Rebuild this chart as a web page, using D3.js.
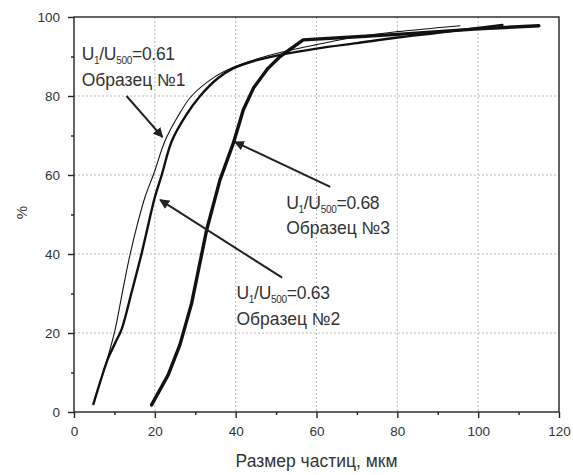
<!DOCTYPE html>
<html>
<head>
<meta charset="utf-8">
<script src="https://cdn.jsdelivr.net/npm/d3@7"></script>
<style>
  body { margin: 0; background: #fff; }
  svg { display: block; }
  text { font-family: "Liberation Sans", Arial, sans-serif; }
</style>
</head>
<body>
<svg id="chart" width="573" height="475"></svg>
<script>
// ---- data ----
const xTicks = [0, 20, 40, 60, 80, 100, 120];
const yTicks = [0, 20, 40, 60, 80, 100];
const xLabel = "Размер частиц, мкм";
const yLabel = "%";

// Образец №1, U1/U500 = 0.61 (thin)
const sample1X = [4.8, 6.6, 8.4, 10.2, 12.1, 13.9, 15.8, 17.6, 19.8, 22.5, 25.5, 29.1, 34.9, 39.4, 45, 51, 60, 70, 80, 95.5];
const sample1Y = [2, 8, 14, 21, 31, 40, 48, 54.5, 60.5, 68.6, 74.5, 80, 84.9, 87.3, 89.3, 91, 93, 95, 96.3, 97.8];
// Образец №2, U1/U500 = 0.63 (medium)
const sample2X = [4.8, 6.6, 8.4, 10.2, 11.8, 14.3, 16.7, 18.4, 19.9, 21.7, 24.2, 27.5, 31.2, 35.6, 39.4, 45, 51, 60, 70, 80, 90, 106];
const sample2Y = [2, 8, 13.5, 17.5, 21, 30.5, 40, 47.5, 54, 60, 68.6, 74.8, 80, 84.5, 87, 89, 90.4, 92, 93.4, 94.8, 96, 98];
// Образец №3, U1/U500 = 0.68 (thick)
const sample3X = [19.2, 23.3, 26.2, 29.1, 32.8, 36.1, 39.4, 41.9, 44.4, 48, 51, 56.7, 70, 80, 90, 100, 115];
const sample3Y = [1.8, 9.4, 17, 27.5, 46, 58.7, 68, 76.5, 82, 87, 90, 94.2, 95, 95.6, 96.3, 97, 97.8];

const labels = [
  { value: "0.61", name: "Образец №1" },
  { value: "0.63", name: "Образец №2" },
  { value: "0.68", name: "Образец №3" }
];

// ---- layout ----
const svg = d3.select("#chart");
const mLeft = 74, mRight = 559, mTop = 17, mBottom = 412;
const x = d3.scaleLinear().domain([0, 120]).range([mLeft, mRight]);
const y = d3.scaleLinear().domain([0, 100]).range([mBottom, mTop]);

// grid
const grid = svg.append("g").attr("stroke", "#b8b8b8").attr("stroke-width", 1).attr("stroke-dasharray", "2,2");
xTicks.filter(d => d > 0 && d < 120).forEach(d => {
  grid.append("line").attr("x1", x(d)).attr("x2", x(d)).attr("y1", mTop).attr("y2", mBottom);
});
yTicks.filter(d => d > 0 && d < 100).forEach(d => {
  grid.append("line").attr("x1", mLeft).attr("x2", mRight).attr("y1", y(d)).attr("y2", y(d));
});

// frame
svg.append("rect").attr("x", mLeft).attr("y", mTop).attr("width", mRight - mLeft).attr("height", mBottom - mTop)
  .attr("fill", "none").attr("stroke", "#222").attr("stroke-width", 1.4);

// axes
const xMinor = d3.range(10, 120, 20);
const yMinor = d3.range(10, 100, 20);
const gx = svg.append("g").attr("transform", `translate(0,${mBottom})`)
  .call(d3.axisBottom(x).tickValues(xTicks).tickSize(6).tickPadding(8).tickFormat(d3.format("d")));
const gxm = svg.append("g").attr("transform", `translate(0,${mBottom})`)
  .call(d3.axisBottom(x).tickValues(xMinor).tickSize(3).tickFormat(""));
const gy = svg.append("g").attr("transform", `translate(${mLeft},0)`)
  .call(d3.axisLeft(y).tickValues(yTicks).tickSize(6).tickPadding(8).tickFormat(d3.format("d")));
const gym = svg.append("g").attr("transform", `translate(${mLeft},0)`)
  .call(d3.axisLeft(y).tickValues(yMinor).tickSize(3).tickFormat(""));
[gx, gxm, gy, gym].forEach(g => {
  g.select(".domain").remove();
  g.selectAll(".tick line").attr("stroke", "#222").attr("stroke-width", 1.4);
  g.selectAll("text").attr("font-size", 13.5).attr("fill", "#333")
    .attr("font-family", "'Liberation Sans', Arial, sans-serif");
});

// axis titles
svg.append("text").attr("x", (mLeft + mRight) / 2).attr("y", 467).attr("text-anchor", "middle")
  .attr("font-size", 17.5).attr("fill", "#333").text(xLabel);
svg.append("text").attr("transform", `translate(27,${(mTop + mBottom) / 2 - 2}) rotate(-90)`)
  .attr("text-anchor", "middle").attr("font-size", 15).attr("fill", "#333").text(yLabel);

// curves
const smooth = d3.line().x(d => x(d[0])).y(d => y(d[1])).curve(d3.curveCatmullRom.alpha(0.5));
const straight = d3.line().x(d => x(d[0])).y(d => y(d[1])).curve(d3.curveLinear);
const series = [
  { xs: sample1X, ys: sample1Y, w: 1.1, gen: smooth },
  { xs: sample2X, ys: sample2Y, w: 2.4, gen: smooth },
  { xs: sample3X, ys: sample3Y, w: 3.4, gen: straight }
];
series.forEach(s => {
  svg.append("path").datum(s.xs.map((v, i) => [v, s.ys[i]]))
    .attr("d", s.gen).attr("fill", "none").attr("stroke", "#111")
    .attr("stroke-width", s.w).attr("stroke-linejoin", "round").attr("stroke-linecap", "round");
});

// arrows (pointer lines from labels to curves), given in data coordinates
const arrows = [
  { from: [13, 80], to: [21.9, 69.6] },
  { from: [51.5, 34], to: [21.3, 53.7] },
  { from: [63.4, 57] , to: [39.8, 68.4] }
];
const defs = svg.append("defs");
defs.append("marker").attr("id", "ah").attr("viewBox", "0 0 10 10").attr("refX", 9).attr("refY", 5)
  .attr("markerWidth", 5).attr("markerHeight", 5).attr("orient", "auto-start-reverse")
  .append("path").attr("d", "M0,0 L10,5 L0,10 z").attr("fill", "#222");
arrows.forEach(a => {
  svg.append("line").attr("x1", x(a.from[0])).attr("y1", y(a.from[1]))
    .attr("x2", x(a.to[0])).attr("y2", y(a.to[1]))
    .attr("stroke", "#222").attr("stroke-width", 2).attr("marker-end", "url(#ah)");
});

// annotations
const labelPos = [ [1.9, 89], [40.2, 28.5], [52.5, 51.5] ];
labels.forEach((l, i) => {
  const g = svg.append("g").attr("transform", `translate(${x(labelPos[i][0])},${y(labelPos[i][1])})`)
    .attr("fill", "#333");
  const t = g.append("text").attr("font-size", 17.5).attr("letter-spacing", -0.3);
  t.append("tspan").text("U");
  t.append("tspan").attr("font-size", 10).attr("dy", 4).text("1");
  t.append("tspan").attr("dy", -4).text("/U");
  t.append("tspan").attr("font-size", 10).attr("dy", 4).text("500");
  t.append("tspan").attr("dy", -4).text("=" + l.value);
  g.append("text").attr("font-size", 17.5).attr("y", 25.5).text(l.name);
});
</script>
</body>
</html>
